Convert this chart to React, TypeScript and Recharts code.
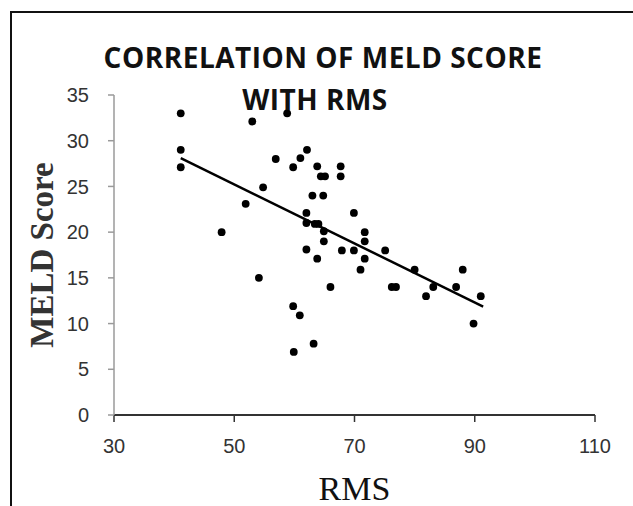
import {
  ScatterChart,
  Scatter,
  XAxis,
  YAxis,
  ReferenceLine,
} from 'recharts';

// RMS (x) and MELD score (y) for each patient
const rmsValues = [
  41.1, 41.1, 41.1, 47.9, 51.9, 53.0, 54.1, 54.8, 56.9, 58.8,
  59.8, 61.0, 62.1, 63.8, 64.4, 65.1, 67.7, 67.7, 63.0, 64.8,
  62.0, 62.0, 63.4, 64.0, 64.9, 64.9, 62.0, 63.8, 67.9, 69.9,
  69.9, 71.7, 71.7, 71.7, 71.0, 75.1, 66.0, 76.2, 76.9, 80.0,
  81.9, 83.1, 86.9, 88.0, 91.0, 89.8, 59.8, 60.9, 63.2, 59.9,
];
const meldValues = [
  33, 29, 27.1, 20, 23.1, 32.1, 15, 24.9, 28, 33,
  27.1, 28.1, 29, 27.2, 26.1, 26.1, 27.2, 26.1, 24, 24,
  22.1, 21, 20.9, 20.9, 20.1, 19, 18.1, 17.1, 18, 18,
  22.1, 20, 19, 17.1, 15.9, 18, 14, 14, 14, 15.9,
  13, 14, 14, 15.9, 13, 10, 11.9, 10.9, 7.8, 6.9,
];

// linear trendline end points
const trendRms = [41.1, 91.4];
const trendMeld = [28.1, 11.85];

const xTicks = [30, 50, 70, 90, 110];
const yTicks = [0, 5, 10, 15, 20, 25, 30, 35];

const points = rmsValues.map((rms, i) => ({ rms, meld: meldValues[i] }));

const tickStyle = {
  fontFamily: "'Liberation Sans', Arial, sans-serif",
  fontSize: 20,
  fill: '#333',
};

const titleStyle = {
  position: 'absolute' as const,
  fontFamily: "'Open Sans', sans-serif",
  fontWeight: 700,
  fontSize: 28,
  letterSpacing: 0.5,
  color: '#111',
  whiteSpace: 'nowrap' as const,
  transform: 'translate(-50%, -50%)',
  lineHeight: 1,
};

export default function App() {
  return (
    <div
      style={{
        position: 'absolute',
        left: 0,
        top: 0,
        width: 633,
        height: 506,
        background: '#fff',
        overflow: 'hidden',
      }}
    >
      <div
        style={{
          position: 'absolute',
          left: 10,
          top: 11,
          width: 640,
          height: 520,
          borderLeft: '2px solid #111',
          borderTop: '2px solid #111',
        }}
      />
      <ScatterChart
        width={633}
        height={506}
        margin={{ top: 95, right: 38, bottom: 51, left: 54 }}
      >
        <XAxis
          type="number"
          dataKey="rms"
          domain={[30, 110]}
          ticks={xTicks}
          tickSize={7}
          tickMargin={17}
          tick={tickStyle}
          axisLine={{ stroke: '#333', strokeWidth: 2 }}
          tickLine={{ stroke: '#333', strokeWidth: 1.5 }}
          height={40}
          label={(props: any) => {
            const vb = props.viewBox;
            return (
              <text
                x={vb.x + vb.width / 2}
                y={500}
                textAnchor="middle"
                fontFamily="'Liberation Serif', 'Times New Roman', serif"
                fontSize={34}
                fill="#111"
              >
                RMS
              </text>
            );
          }}
        />
        <YAxis
          type="number"
          dataKey="meld"
          domain={[0, 35]}
          ticks={yTicks}
          tickSize={6}
          tickMargin={19}
          tick={tickStyle}
          axisLine={{ stroke: '#9a9a9a', strokeWidth: 1.5 }}
          tickLine={{ stroke: '#9a9a9a', strokeWidth: 1.5 }}
          width={60}
          label={(props: any) => {
            const vb = props.viewBox;
            const cx = 42;
            const cy = vb.y + vb.height / 2;
            return (
              <text
                x={cx}
                y={cy}
                transform={`rotate(-90, ${cx}, ${cy})`}
                textAnchor="middle"
                dominantBaseline="central"
                fontFamily="'Liberation Serif', 'Times New Roman', serif"
                fontWeight={700}
                fontSize={33}
                fill="#333"
              >
                MELD Score
              </text>
            );
          }}
        />
        <Scatter
          data={points}
          fill="#000"
          shape={(p: any) => <circle cx={p.cx} cy={p.cy} r={3.9} fill="#000" />}
          isAnimationActive={false}
        />
        <ReferenceLine
          segment={[
            { x: trendRms[0], y: trendMeld[0] },
            { x: trendRms[1], y: trendMeld[1] },
          ]}
          stroke="#000"
          strokeWidth={2.5}
        />
      </ScatterChart>
      <div style={{ ...titleStyle, left: 323, top: 57 }}>
        CORRELATION OF MELD SCORE
      </div>
      <div style={{ ...titleStyle, left: 315, top: 99 }}>WITH RMS</div>
    </div>
  );
}
